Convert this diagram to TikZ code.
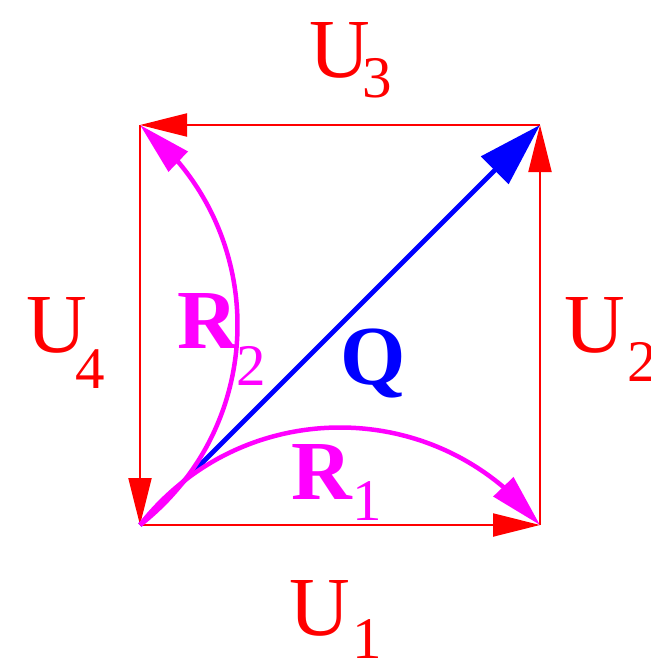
\documentclass[tikz,border=0pt]{standalone}
\usepackage{fontspec}
\setmainfont{Liberation Serif}
\usetikzlibrary{arrows.meta,bending}
\definecolor{mag}{RGB}{255,0,255}
\definecolor{rd}{RGB}{255,0,0}
\definecolor{bl}{RGB}{0,0,255}
\begin{document}
\begin{tikzpicture}[x=1pt,y=-1pt,
  edge/.style={draw=rd, line width=2.2pt, -{Triangle[length=47pt,width=23pt]}},
  qarrow/.style={draw=bl, line width=4.8pt, -{Triangle[length=64pt,width=38pt]}},
  rarrow/.style={draw=mag, line width=4.5pt, -{Triangle[length=53pt,width=27pt]}},
  big/.style={inner sep=0pt, anchor=base west, font=\fontsize{84}{84}\selectfont},
  bigb/.style={inner sep=0pt, anchor=base west, font=\fontsize{84}{84}\selectfont\bfseries},
  sub/.style={inner sep=0pt, anchor=base west, font=\fontsize{59}{59}\selectfont}
]
\useasboundingbox (0,0) rectangle (651,662);
\coordinate (BL) at (140,525);
\coordinate (BR) at (540,525);
\coordinate (TR) at (540,125);
\coordinate (TL) at (140,125);
% edges
\draw[edge] (BL) -- (BR);
\draw[edge] (BR) -- (TR);
\draw[edge] (TR) -- (TL);
\draw[edge] (TL) -- (BL);
% Q
\draw[qarrow] (BL) -- (TR);
% R1 and R2
\draw[rarrow] (BL) .. controls (242,395) and (438,395) .. (BR);
\draw[rarrow] (BL) .. controls (270,423) and (270,227) .. (TL);
% labels
\node[big,text=rd] (u3) at (309,77) {U};
\node[sub,text=rd] (u3s) at (362,97) {3};
\node[big,text=rd] (u1) at (289,635) {U};
\node[sub,text=rd] (u1s) at (352,658) {1};
\node[big,text=rd] (u4) at (26,352) {U};
\node[sub,text=rd] (u4s) at (75,388) {4};
\node[big,text=rd] (u2) at (564,352) {U};
\node[sub,text=rd] (u2s) at (627,381) {2};
\node[bigb,text=mag] (r2) at (177,348) {R};
\node[sub,text=mag] (r2s) at (236,385) {2};
\node[bigb,text=mag] (r1) at (291,499) {R};
\node[sub,text=mag] (r1s) at (352,520) {1};
\node[bigb,text=bl] (q) at (340,384) {Q};
\end{tikzpicture}
\end{document}
